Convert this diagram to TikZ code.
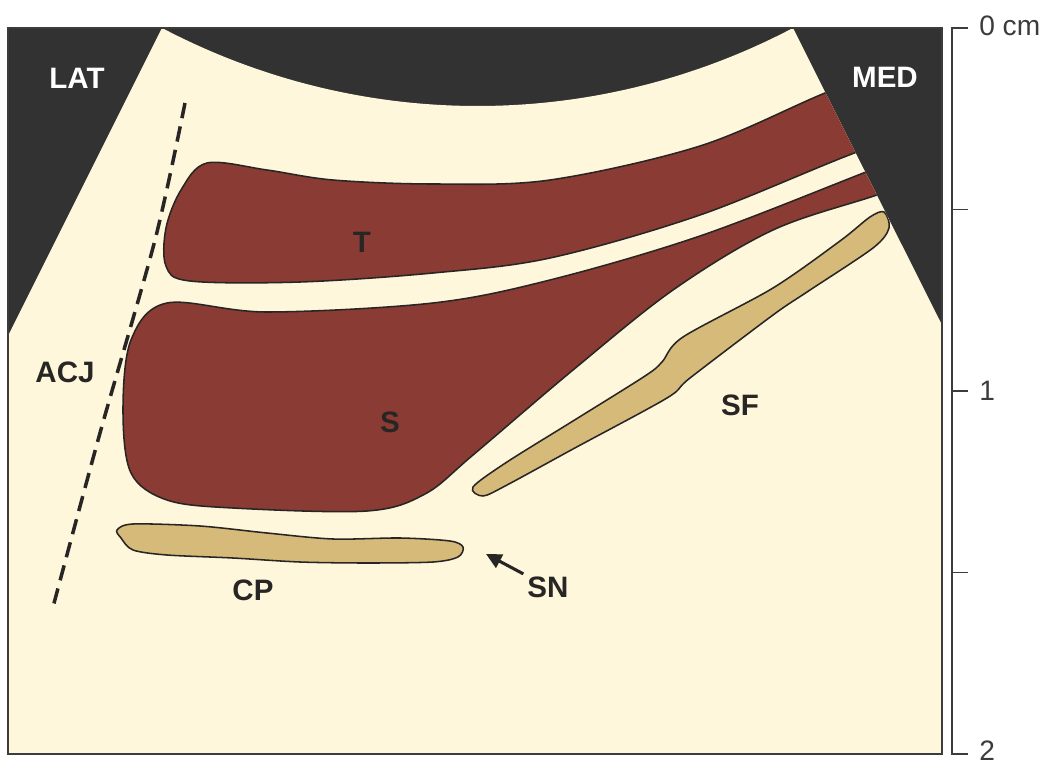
\documentclass[tikz,border=0pt]{standalone}
\usepackage{fontspec}
\setmainfont{Liberation Sans}
\usepackage{tikz}
\usetikzlibrary{arrows.meta}
\definecolor{mDark}{RGB}{49,50,49}
\definecolor{mCream}{RGB}{254,247,220}
\definecolor{mMuscle}{RGB}{138,59,51}
\definecolor{mTan}{RGB}{214,186,122}
\definecolor{mInk}{RGB}{40,38,36}
\definecolor{mRule}{RGB}{60,60,60}

\begin{document}
\begin{tikzpicture}[
    x=0.025cm, y=-0.025cm,
    edged/.style ={draw=mInk, line width=1.1pt, line join=round},
    muscle/.style={edged, fill=mMuscle},
    fascia/.style={edged, fill=mTan},
    tag/.style   ={font=\fontsize{21}{24}\selectfont\bfseries, text=mInk, inner sep=1pt},
    sidetag/.style={tag, text=white},
    ruler/.style ={draw=mRule, line width=1.4pt},
    rulerlbl/.style={font=\fontsize{20}{23}\selectfont, text=mRule, inner sep=0pt, anchor=west},
    joint/.style ={draw=mInk, line width=2.5pt, dash pattern=on 11pt off 6pt},
    arr/.style   ={-{Triangle[length=11pt, width=10.5pt]}, draw=mInk, line width=2.2pt}
]
\useasboundingbox (0,0) rectangle (1053,767);
\fill[white] (0,0) rectangle (1053,767);

% field of view: dark frame, cream sector on top
\coordinate (fovL) at (162,28);
\coordinate (fovR) at (793,28);
\fill[mDark] (8,28) rectangle (942,754);
\fill[mCream] (fovL) .. controls (360,132) and (595,132) .. (fovR)
    -- (942,325) -- (942,754) -- (8,754) -- (8,336) -- cycle;

\begin{scope}
  \clip (fovL) .. controls (360,132) and (595,132) .. (fovR)
      -- (942,325) -- (942,754) -- (8,754) -- (8,336) -- cycle;
  % upper muscle belly
  \draw[muscle] plot[smooth cycle, tension=0.55] coordinates {
      (207,163) (267,170) (333,180) (433,184) (550,180) (700,146) (825,93)
      (930,52) (975,112) (857,152) (700,215) (550,258) (433,273) (300,282)
      (190,281) (166,266) (166,228) (181,190)};
  % lower muscle belly
  \draw[muscle] plot[smooth cycle, tension=0.55] coordinates {
      (167,303) (267,312) (433,303) (550,280) (700,236) (866,172)
      (955,137) (965,165) (877,195) (773,230) (673,290) (573,370) (473,455)
      (425,494) (367,511) (233,508) (167,500) (131,473) (123,410) (131,340)};
  % fascia strip
  \draw[fascia] plot[smooth cycle, tension=0.5] coordinates {
      (473,487) (507,462) (573,421) (645,376) (662,362) (683,337) (773,288)
      (840,241) (870,217) (884,212) (889,228) (873,248) (807,292) (773,315)
      (690,378) (667,398) (573,449) (507,485) (483,496)};
  % bony contour
  \draw[fascia] plot[smooth cycle, tension=0.5] coordinates {
      (117,530) (133,524) (200,526) (267,533) (333,539) (400,538) (450,541)
      (463,547) (458,557) (433,562) (367,563) (300,562) (233,558) (167,555)
      (133,550) (121,538)};
\end{scope}
\draw[draw=mRule, line width=1.1pt] (8,28) rectangle (942,754);

% joint line
\draw[joint] plot[smooth] coordinates {(185,103) (155,240) (100,433) (53,607)};

% labels
\node[sidetag] (lat) at (77,78)  {LAT};
\node[sidetag] (med) at (885,77) {MED};
\node[tag] (acj) at (65,372)  {ACJ};
\node[tag] (tm)  at (362,242) {T};
\node[tag] (sm)  at (390,422) {S};
\node[tag] (sf)  at (740,405) {SF};
\node[tag] (cp)  at (253,590) {CP};
\node[tag] (sn)  at (548,587) {SN};

\coordinate (notch) at (486,554);
\draw[arr, shorten <=2pt] (sn) -- (notch);

% depth scale
\draw[ruler, line join=miter] (968,28) -- (952,28) -- (952,754) -- (968,754);
\foreach \y in {209.5,391,572.5}
  \draw[ruler] (952,\y) -- (968,\y);
\node[rulerlbl] (d0) at (979,26)  {0 cm};
\node[rulerlbl] (d1) at (979,391) {1};
\node[rulerlbl] (d2) at (979,751) {2};
\end{tikzpicture}
\end{document}
